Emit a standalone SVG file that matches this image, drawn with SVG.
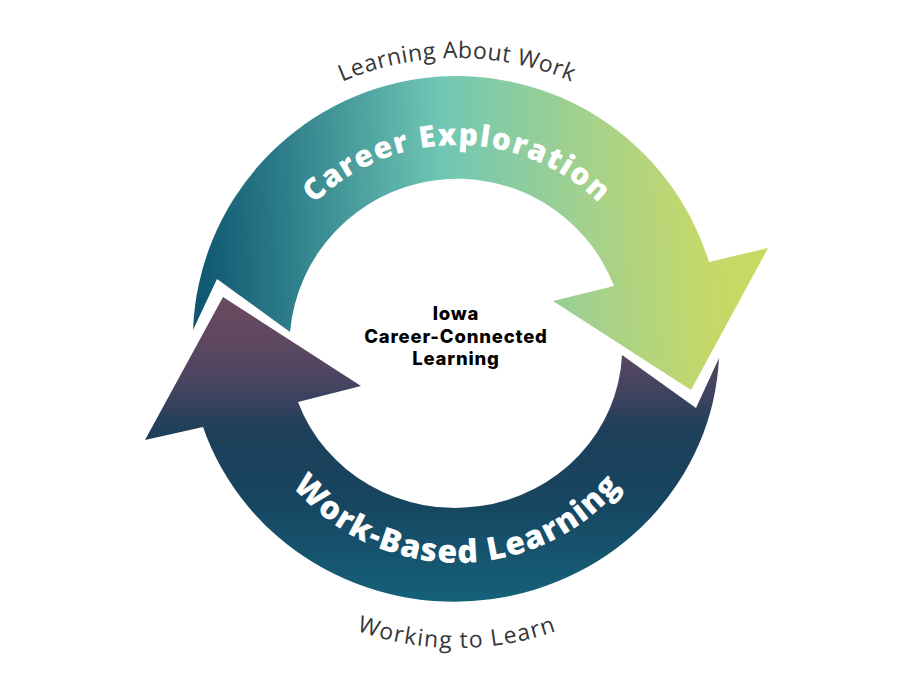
<svg xmlns="http://www.w3.org/2000/svg" xmlns:xlink="http://www.w3.org/1999/xlink" width="915" height="686" viewBox="0 0 915 686">
  <style>
    .arc-label { font-family: "Open Sans", "Liberation Sans", sans-serif; font-weight: 800; fill: #ffffff; }
    .outer-label { font-family: "Open Sans", "Liberation Sans", sans-serif; font-weight: 400; fill: #363636; font-size: 23px; }
    .center-label { font-family: Inter, "Liberation Sans", sans-serif; font-weight: 800; fill: #000000; font-size: 18.5px; letter-spacing: 0.8px; text-anchor: middle; }
  </style>
  <defs>
    <linearGradient id="gradTop" gradientUnits="userSpaceOnUse" x1="200" y1="330" x2="760" y2="300">
      <stop offset="0" stop-color="#0f5670"/>
      <stop offset="0.15" stop-color="#2a7a88"/>
      <stop offset="0.45" stop-color="#70c7b4"/>
      <stop offset="0.7" stop-color="#a3d18d"/>
      <stop offset="0.9" stop-color="#c4d86a"/>
      <stop offset="1" stop-color="#c9da62"/>
    </linearGradient>
    <linearGradient id="gradBottom" gradientUnits="userSpaceOnUse" x1="0" y1="295" x2="0" y2="605">
      <stop offset="0" stop-color="#6b4b60"/>
      <stop offset="0.145" stop-color="#5f4860"/>
      <stop offset="0.27" stop-color="#4b4461"/>
      <stop offset="0.44" stop-color="#1e3f5a"/>
      <stop offset="0.66" stop-color="#174560"/>
      <stop offset="1" stop-color="#15627a"/>
    </linearGradient>
    <path id="pathTopText" d="M 254,348 A 203 203 0 0 1 660,348"/>
    <path id="pathBottomText" d="M 242,348 A 215 215 0 0 0 672,348"/>
    <path id="pathOuterTop" d="M 167,348 A 290 290 0 0 1 747,348"/>
    <path id="pathOuterBottom" d="M 157,348 A 300 300 0 0 0 757,348"/>
  </defs>

  <g id="connectors">
    <g id="arrow-career-exploration">
      <path d="M 193,330 A 264 264 0 0 1 709,262 L 768,248 L 691,390 L 553,301 L 614,286 A 168 168 0 0 0 290,332 L 217,279 Z" fill="url(#gradTop)"/>
      <text class="arc-label" font-size="30" letter-spacing="1.5"><textPath xlink:href="#pathTopText" href="#pathTopText" startOffset="50%" text-anchor="middle">Career Exploration</textPath></text>
    </g>
    <g id="arrow-work-based-learning">
      <path d="M 719,358 A 265 256 0 0 1 203,427 L 145,440 L 223,297 L 361,386 L 298,402 A 167 160 0 0 0 622,355 L 696,408 Z" fill="url(#gradBottom)"/>
      <text class="arc-label" font-size="32" letter-spacing="1.2"><textPath xlink:href="#pathBottomText" href="#pathBottomText" startOffset="50%" text-anchor="middle">Work-Based Learning</textPath></text>
    </g>
  </g>

  <g id="label-learning-about-work">
    <text class="outer-label" letter-spacing="0.5"><textPath xlink:href="#pathOuterTop" href="#pathOuterTop" startOffset="50%" text-anchor="middle">Learning About Work</textPath></text>
  </g>
  <g id="label-working-to-learn">
    <text class="outer-label" letter-spacing="1.3"><textPath xlink:href="#pathOuterBottom" href="#pathOuterBottom" startOffset="50%" text-anchor="middle">Working to Learn</textPath></text>
  </g>

  <g id="node-center">
    <text class="center-label" x="456" y="320">Iowa</text>
    <text class="center-label" x="456" y="342.5">Career-Connected</text>
    <text class="center-label" x="456" y="365">Learning</text>
  </g>
</svg>
